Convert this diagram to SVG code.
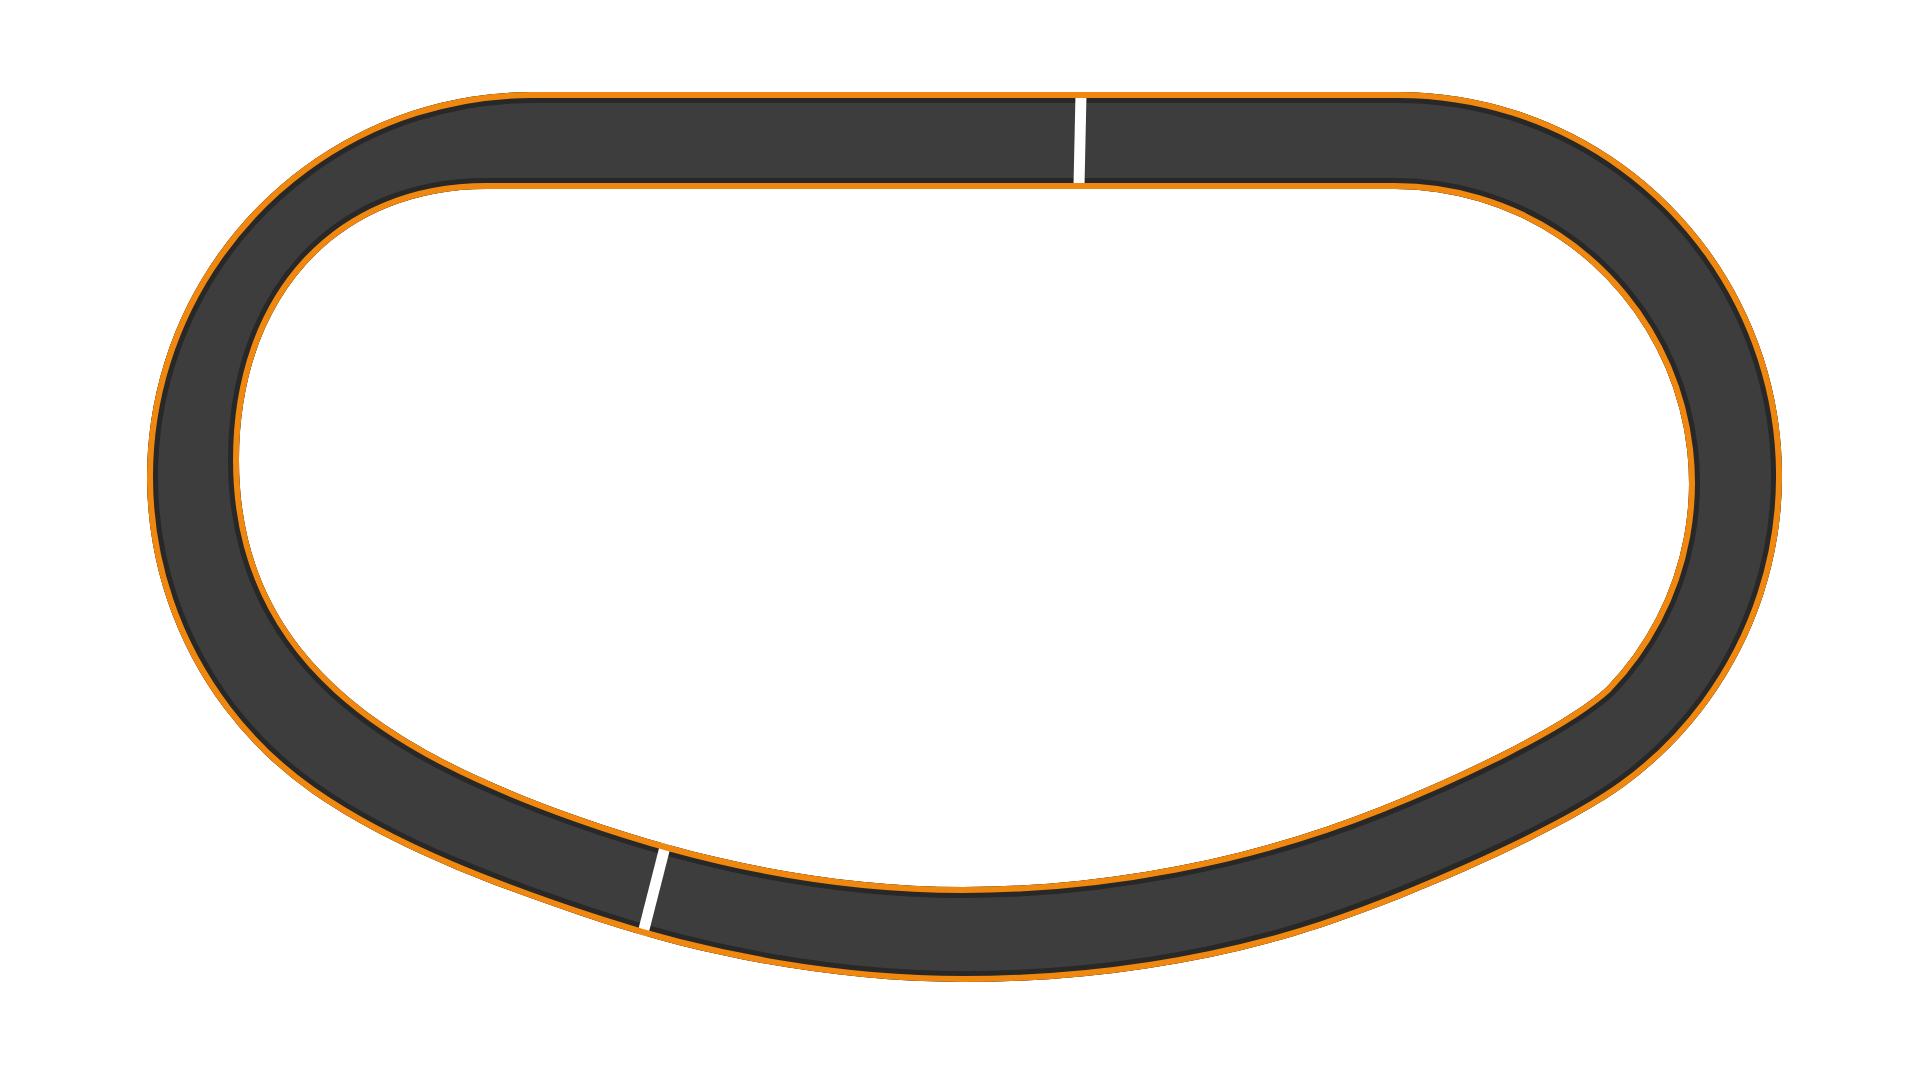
<svg xmlns="http://www.w3.org/2000/svg" width="1920" height="1080" viewBox="0 0 1920 1080">
<style>
.asph{fill:#3D3D3D;fill-rule:evenodd}
.rim{fill:none;stroke:#282828;stroke-width:22;stroke-linejoin:round}
.edge{fill:none;stroke:#F0880F;stroke-width:12;stroke-linejoin:round}
.line{stroke:#FFFFFF;stroke-width:11}
</style>
<defs>
<path id="track" d="M532,92 L1398,92 A384,384 0 0 1 1623.7,786.7 C1559,833.7 1385.9,910.5 1280,940 C1178.9,968.1 1073,982 963,982 C843,982 714,959.6 600,922 C505,890.7 393.1,849.8 311.2,792.4 A385,385 0 0 1 532,92 Z M486.5,189 L1395,189 A294,294 0 0 1 1606.5,687.2 C1562.1,727.4 1454.2,777.3 1380,807 C1250,859 1103,887 963,887 C833,887 702.6,860.3 580,817 C391.4,750.4 239,660 239,460 C239,297 338,189 486.5,189 Z"/>
<clipPath id="trackClip"><use href="#track" clip-rule="evenodd"/></clipPath>
</defs>
<rect width="1920" height="1080" fill="#FFFFFF"/>
<g id="track-surface" clip-path="url(#trackClip)">
<use href="#track" class="asph"/>
<use href="#track" class="rim"/>
<g id="markings">
<line class="line" x1="1081.2" y1="85" x2="1078.8" y2="195"/>
<line class="line" x1="666.5" y1="841" x2="640.5" y2="943"/>
</g>
<use href="#track" class="edge"/>
</g>
</svg>
